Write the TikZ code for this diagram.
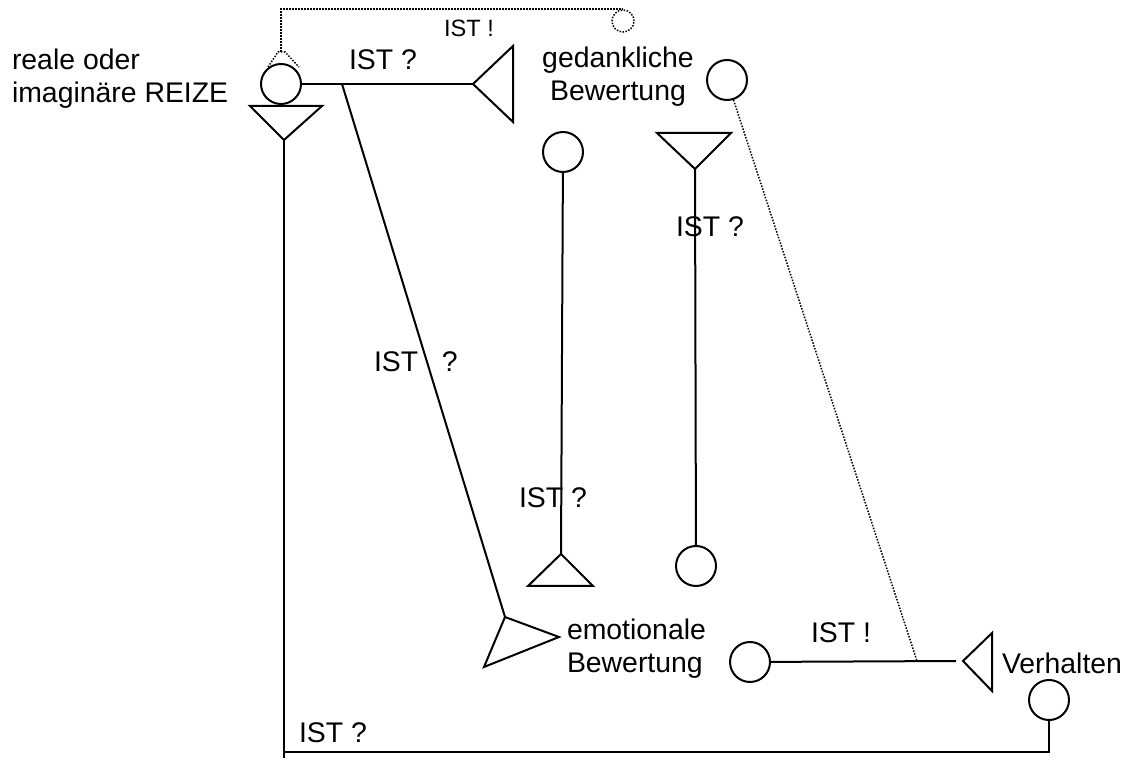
\documentclass[tikz,border=0pt]{standalone}
\usepackage{fontspec}
\setmainfont{Liberation Sans}
\begin{document}
\begin{tikzpicture}[x=0.5pt,y=-0.5pt,
  line width=1pt, line join=miter,
  ring/.style={circle, draw, inner sep=0pt, minimum size=20pt},
  dotring/.style={circle, draw, inner sep=0pt, minimum size=11pt, dotline},
  dotline/.style={line width=0.75pt, dash pattern=on 0.75pt off 0.75pt},
  lbl/.style={inner sep=0pt, font=\fontsize{14.2}{16.5}\selectfont},
  small/.style={inner sep=0pt, font=\fontsize{11.8}{14}\selectfont}]
\useasboundingbox (0,0) rectangle (1135,758);

% circles
\node[ring] (reize) at (281,84) {};
\node[ring] (ged) at (727,80) {};
\node[ring] (cmid) at (563,152) {};
\node[ring] (clow) at (696,566) {};
\node[ring] (emo) at (750,662) {};
\node[ring] (verh) at (1049,700) {};
\node[dotring] (dot) at (623,21) {};

% triangles (apex named for the connectors)
\coordinate (tg) at (473,84);
\draw (tg) -- (513,46) -- (513,122) -- cycle;
\coordinate (tr) at (284,140);
\draw (tr) -- (250,106) -- (322,106) -- cycle;
\coordinate (td) at (695,169);
\draw (td) -- (657,133) -- (731,133) -- cycle;
\coordinate (tu) at (561,554);
\draw (tu) -- (528,586) -- (593,586) -- cycle;
\coordinate (te) at (505,617);
\draw (te) -- (559,637) -- (484,667) -- cycle;
\coordinate (tv) at (963,661);
\draw (tv) -- (992,633) -- (992,691) -- cycle;

% solid connectors
\coordinate (j1) at (342,84);
\draw (reize) -- (tg);
\draw (j1) -- (te);
\draw (cmid) -- (tu);
\draw (td) -- (clow);
\coordinate (vend) at (956,661);
\draw (emo) -- (vend);
\coordinate (bot) at (284,758);
\draw (tr) -- (bot);
\coordinate (corner) at (284,752);
\draw (corner) -| (verh.south);

% dotted feedback lines
\coordinate (j2) at (917,661);
\draw[dotline] (ged) -- (j2);
\coordinate (hat) at (281,52);
\draw[dotline] (268,67) -- (278,52) -- (285,52) -- (299,67);
\draw[dotline] (hat) -- (hat |- dot.north) -- (dot.north);

% labels
\node[lbl, anchor=west, align=left] (t1) at (11,79) {reale oder\\imagin\"are REIZE};
\node[lbl, anchor=center, align=center] (t2) at (618,77) {gedankliche\\Bewertung};
\node[lbl, anchor=west, align=left] (t3) at (566,649) {emotionale\\Bewertung};
\node[lbl, anchor=base west] (t4) at (1001,673) {Verhalten};
\node[lbl, anchor=base west] (i1) at (348,70) {IST ?};
\node[small, anchor=base west] (i2) at (443,37) {IST !};
\node[lbl, anchor=base west] (i3) at (373,372) {IST~~~?};
\node[lbl, anchor=base west] (i4) at (518,508) {IST ?};
\node[lbl, anchor=base west] (i5) at (675,237) {IST ?};
\node[lbl, anchor=base west] (i6) at (810,642) {IST !};
\node[lbl, anchor=base west] (i7) at (298,742) {IST ?};
\end{tikzpicture}
\end{document}
